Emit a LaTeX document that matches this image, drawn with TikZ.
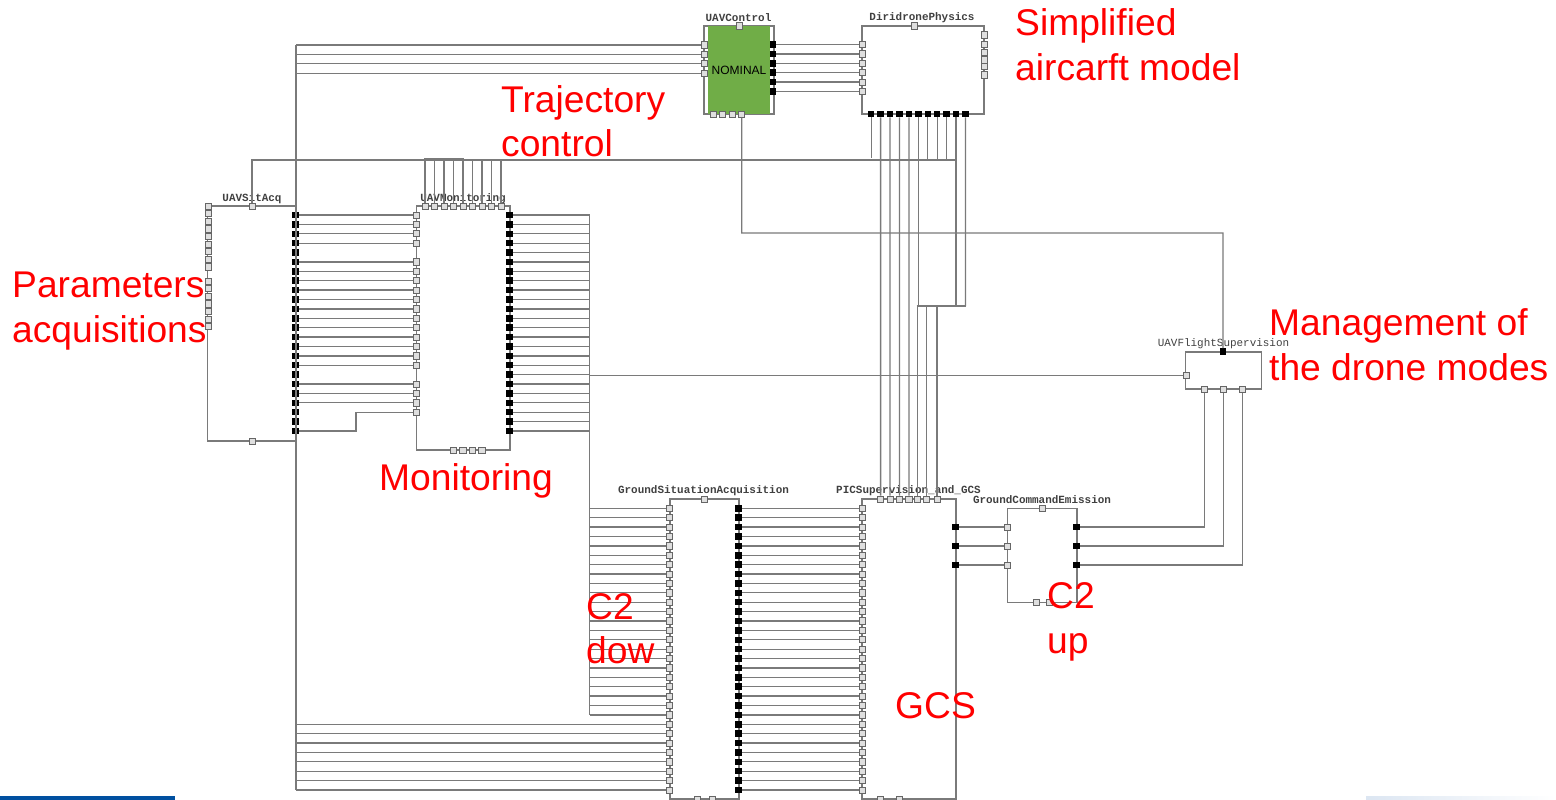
\documentclass[tikz,border=0pt]{standalone}
\usepackage{fontspec}
\setmainfont{Liberation Sans}
\setmonofont{Liberation Mono}
\usepackage{tikz}
\usetikzlibrary{calc,positioning}
\definecolor{wiregray}{gray}{0.48}
\definecolor{nominalgreen}{HTML}{70AD47}
\definecolor{barblue}{HTML}{0050A0}
\definecolor{barpale}{HTML}{DCE6F2}

\begin{document}
\begin{tikzpicture}[
    x=1pt, y=-1pt,
    block/.style={rectangle, draw=wiregray, line width=1.3pt, inner sep=0pt, outer sep=0pt},
    inport/.style={rectangle, draw=black!60, line width=0.8pt, fill=gray!25, inner sep=0pt, minimum size=6.2pt},
    outport/.style={rectangle, fill=black, inner sep=0pt, minimum size=6.5pt},
    wire/.style={draw=wiregray, line width=1.3pt},
    title/.style={text=black!75, inner sep=0pt, font=\ttfamily\bfseries\fontsize{10.95}{12}\selectfont},
    lighttitle/.style={title, font=\ttfamily\fontsize{10.95}{12}\selectfont},
    note/.style={text=red, inner sep=0pt, anchor=north west, align=left, font=\fontsize{37.2}{44.8}\selectfont}
]
    \useasboundingbox (0,0) rectangle (1556,800);

    % --- BOTTOM BARS ---
    \fill[barblue] (0,796) rectangle (175,800);
    \shade[left color=barpale, right color=white] (1366,796) rectangle (1556,800);

    % --- BLOCKS ---
    \node[block, minimum width=70, minimum height=88] (UAVControl) at (739,70) {};
    \node[fill=nominalgreen, inner sep=0pt, minimum width=62, minimum height=87, font=\fontsize{12}{14}\selectfont] (Nominal) at (739,70) {NOMINAL};
    \node[block, minimum width=122, minimum height=88] (DiridronePhysics) at (923,70) {};
    \node[block, minimum width=88.5, minimum height=235] (UAVSitAcq) at (252,323.5) {};
    \node[block, minimum width=93.5, minimum height=244] (UAVMonitoring) at (463.3,328) {};
    \node[block, minimum width=69, minimum height=300] (GroundSituation) at (704.5,649) {};
    \node[block, minimum width=94, minimum height=300] (PICSupervision) at (909,649) {};
    \node[block, minimum width=69.5, minimum height=93.5] (GroundCommand) at (1042.3,555.5) {};
    \node[block, minimum width=75.5, minimum height=37] (UAVFlight) at (1223.5,370.5) {};

    % --- TITLES ---
    \node[title] (UAVControlTitle) at (738.5,18) {UAVControl};
    \node[title] (DiridroneTitle) at (922,18) {DiridronePhysics};
    \node[title] (SitAcqTitle) at (252,198.5) {UAVSitAcq};
    \node[title] (MonitoringTitle) at (463,198.5) {UAVMonitoring};
    \node[title] (GroundSituationTitle) at (703.5,491) {GroundSituationAcquisition};
    \node[title] (PICTitle) at (908.5,491) {PICSupervision\_and\_GCS};
    \node[title] (GroundCommandTitle) at (1042,500) {GroundCommandEmission};
    \node[lighttitle] (UAVFlightTitle) at (1223.5,343.5) {UAVFlightSupervision};

    % --- PORTS ---
    \node[inport] (CtlT) at (739.3,26) {};
    \foreach \i [evaluate=\i as \y using 45+9.4*\i] in {0,...,3}
        \node[inport] (CtlL\i) at (704,\y) {};
    \foreach \i [evaluate=\i as \x using 713.3+9.47*(\i-1)] in {1,...,4}
        \node[inport] (CtlB\i) at (\x,114) {};
    \foreach \i [evaluate=\i as \y using 44.5+9.4*\i] in {0,...,5} {
        \node[outport] (CtlR\i) at (773,\y) {};
        \node[inport] (DipL\i) at (862,\y) {};
    }
    \node[inport] (DipT) at (914,26) {};
    \foreach \i/\y in {1/35,2/44.7,3/52.3,4/60,5/66.7,6/75}
        \node[inport] (DipR\i) at (984,\y) {};
    \foreach \i [evaluate=\i as \x using 871.2+9.43*(\i-1)] in {1,...,11}
        \node[outport] (DipB\i) at (\x,114) {};

    \node[inport] (SitT) at (252,206) {};
    \node[inport] (SitB) at (252,441) {};
    \foreach \i [evaluate=\i as \y using 206+7.6*\i] in {0,...,8}
        \node[inport] (SitA\i) at (208,\y) {};
    \foreach \i [evaluate=\i as \y using 281+7.6*\i] in {0,...,6}
        \node[inport] (SitC\i) at (208,\y) {};
    \foreach \i [evaluate=\i as \y using 215+9.39*\i] in {0,...,23} {
        \node[outport] (SitR\i) at (295.7,\y) {};
        \node[outport] (MonR\i) at (509.7,\y) {};
    }
    \foreach \i [evaluate=\i as \y using 215+9.39*\i] in {0,1,2,3,5,6,7,8,9,10,11,12,13,14,15,16,18,19,20,21}
        \node[inport] (MonL\i) at (416.5,\y) {};
    \foreach \i [evaluate=\i as \x using 425+9.5*(\i-1)] in {1,...,9}
        \node[inport] (MonT\i) at (\x,206) {};
    \foreach \i [evaluate=\i as \x using 453.3+9.5*\i] in {0,...,3}
        \node[inport] (MonB\i) at (\x,450) {};

    \node[inport] (GsaT) at (704,499) {};
    \node[inport] (GsaB1) at (697.7,799) {};
    \node[inport] (GsaB2) at (712,799) {};
    \foreach \i [evaluate=\i as \y using 508.3+9.39*\i] in {0,...,30} {
        \node[inport] (GsaL\i) at (669.7,\y) {};
        \node[outport] (GsaR\i) at (738.7,\y) {};
        \node[inport] (PicL\i) at (862,\y) {};
    }
    \foreach \i/\x in {1/880.63,2/890.06,3/899.49,4/908.92,5/917.5,6/926.5,7/937}
        \node[inport] (PicT\i) at (\x,499) {};
    \node[inport] (PicB1) at (880.7,799) {};
    \node[inport] (PicB2) at (899.3,799) {};

    \foreach \i/\y in {1/527,2/546,3/565} {
        \node[outport] (PicR\i) at (955.7,\y) {};
        \node[inport] (CmdL\i) at (1007.7,\y) {};
        \node[outport] (CmdR\i) at (1076.7,\y) {};
    }
    \node[inport] (CmdT) at (1042,508.7) {};
    \node[inport] (CmdB1) at (1036,602.3) {};
    \node[inport] (CmdB2) at (1049.5,602.3) {};

    \node[inport] (FlightL) at (1186,375.3) {};
    \node[outport] (FlightT) at (1223,351.5) {};
    \node[inport] (FlightB1) at (1204.7,389) {};
    \node[inport] (FlightB2) at (1223.5,389) {};
    \node[inport] (FlightB3) at (1242.3,389) {};

    % --- BUSES ---
    \coordinate (SitBusTop) at (296,45);
    \coordinate (SitBusBot) at (296,790);
    \coordinate (MonBusTop) at (589.5,215);
    \coordinate (MonBusBot) at (589.5,715);
    \coordinate (StatusBus) at (956,160);
    \coordinate (MonStubTop) at (463,158.3);
    \coordinate (PhysBusLeft) at (916.5,306);
    \coordinate (PhysBusRight) at (965.5,306);
    \coordinate (CtlTurn) at (741.7,233);

    \draw[wire] (SitBusTop) -- (SitBusBot);
    \draw[wire] (MonBusTop) -- (MonBusBot);
    \draw[wire] (SitT) |- (StatusBus);
    \draw[wire] (MonT1 |- MonStubTop) -- (MonStubTop);
    \draw[wire] (PhysBusLeft) -- (PhysBusRight);

    % --- CONNECTIONS ---
    \foreach \i in {0,...,3}
        \draw[wire] (CtlL\i -| SitBusTop) -- (CtlL\i);
    \foreach \i in {0,...,5}
        \draw[wire] (CtlR\i) -- (DipL\i);
    \foreach \i in {0,1,2,3,5,6,7,8,9,10,11,12,13,14,15,16,18,19,20}
        \draw[wire] (SitR\i) -- (MonL\i);
    \draw[wire] (SitR23) -- ++(60.3,0) |- (MonL21);
    \foreach \i in {0,...,23}
        \draw[wire] (MonR\i) -- (MonR\i -| MonBusTop);
    \foreach \i in {0,...,22}
        \draw[wire] (GsaL\i -| MonBusTop) -- (GsaL\i);
    \foreach \i in {23,...,30}
        \draw[wire] (GsaL\i -| SitBusTop) -- (GsaL\i);
    \foreach \i in {0,...,30}
        \draw[wire] (GsaR\i) -- (PicL\i);
    \foreach \i in {1,...,5}
        \draw[wire] (MonT\i) -- (MonT\i |- MonStubTop);
    \foreach \i in {6,...,9}
        \draw[wire] (MonT\i) -- (MonT\i |- StatusBus);

    \draw[wire] (DipB1) -- ++(0,44);
    \foreach \i/\j in {2/1,3/2,4/3,5/4}
        \draw[wire] (DipB\i) -- (PicT\j);
    \draw[wire] (DipB6) -- (DipB6 |- PhysBusLeft);
    \foreach \i in {7,8,9}
        \draw[wire] (DipB\i) -- (DipB\i |- StatusBus);
    \draw[wire] (DipB10) -- (DipB10 |- PhysBusLeft);
    \draw[wire] (DipB11) -- (PhysBusRight);
    \foreach \i in {5,6,7}
        \draw[wire] (PicT\i) -- (PicT\i |- PhysBusLeft);

    \draw[wire] (CtlB4) -- (CtlTurn) -| (FlightT);
    \draw[wire] (FlightL -| MonBusTop) -- (FlightL);
    \foreach \i in {1,2,3} {
        \draw[wire] (PicR\i) -- (CmdL\i);
        \draw[wire] (CmdR\i) -| (FlightB\i);
    }

    % --- RED NOTES ---
    \node[note] (SimplifiedNote) at (1015,8.5) {Simplified\\aircarft model};
    \node[note, font=\fontsize{37.2}{44}\selectfont] (TrajectoryNote) at (501,85.5) {Trajectory\\control};
    \node[note] (ParametersNote) at (12,271.5) {Parameters\\acquisitions};
    \node[note] (MonitoringNote) at (379,463.5) {Monitoring};
    \node[note] (DownNote) at (586,593) {C2\\dow};
    \node[note] (UpNote) at (1047,582.5) {C2\\up};
    \node[note] (GCSNote) at (895,692.5) {GCS};
    \node[note] (ManagementNote) at (1269,308.5) {Management of\\the drone modes};
\end{tikzpicture}
\end{document}
